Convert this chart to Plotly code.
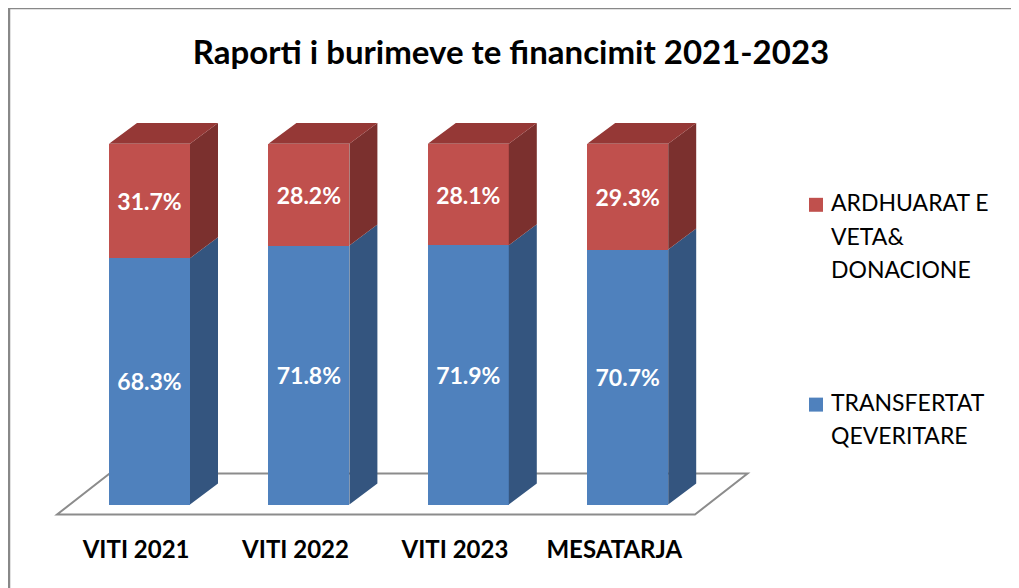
import plotly.graph_objects as go

# ---- data ----
categories = ["VITI 2021", "VITI 2022", "VITI 2023", "MESATARJA"]
transfertat = [68.3, 71.8, 71.9, 70.7]      # TRANSFERTAT QEVERITARE (%)
ardhuarat = [31.7, 28.2, 28.1, 29.3]        # ARDHUARAT E VETA& DONACIONE (%)
title_text = "Raporti i burimeve te financimit 2021-2023"

# ---- style / layout constants ----
OFF = 8                      # page body margin
W, H = 1019 - OFF, 588 - OFF
BOTTOM = 65.5                # bottom margin (px)
PLOT_H = H - BOTTOM
X0, XU = 149.5 - OFF, 159.4  # px of first category, px per category
Y0, YU = 505.0 - OFF, 3.61   # px of value 0, px per percent
BAR_W = 81 / XU
DX = 28 / XU                 # depth offset in x units
DY = 21 / YU                 # depth offset in y units
FONT = "Lato"

BLUE, BLUE_SIDE = "#4F81BD", "#34557F"
RED, RED_SIDE, RED_TOP = "#C0504D", "#7B302E", "#953836"

xr = [(0 - X0) / XU, (W - X0) / XU]
yr = [(Y0 - PLOT_H) / YU, Y0 / YU]

xs = list(range(len(categories)))

fig = go.Figure()

# front faces
for vals, color in ((transfertat, BLUE), (ardhuarat, RED)):
    fig.add_trace(go.Bar(x=xs, y=vals, width=BAR_W, marker=dict(color=color, line=dict(width=0)),
                         text=[f"{v:.1f}%" for v in vals], textposition="inside",
                         insidetextanchor="middle", textangle=0,
                         textfont=dict(family=FONT, size=23, color="white", weight="bold"),
                         showlegend=False, hoverinfo="skip"))

# 3D side / top faces computed from the data
def poly_trace(polys, color):
    px, py = [], []
    for p in polys:
        for (a, b) in p + [p[0]]:
            px.append(a); py.append(b)
        px.append(None); py.append(None)
    return go.Scatter(x=px, y=py, mode="lines", fill="toself", fillcolor=color,
                      line=dict(width=0), showlegend=False, hoverinfo="skip")

blue_side, red_side, red_top = [], [], []
for i, (b, r) in enumerate(zip(transfertat, ardhuarat)):
    xl, xrt = i - BAR_W / 2, i + BAR_W / 2
    top = b + r
    blue_side.append([(xrt, 0), (xrt + DX, DY), (xrt + DX, b + DY), (xrt, b)])
    red_side.append([(xrt, b), (xrt + DX, b + DY), (xrt + DX, top + DY), (xrt, top)])
    red_top.append([(xl, top), (xl + DX, top + DY), (xrt + DX, top + DY), (xrt, top)])

fig.add_trace(poly_trace(blue_side, BLUE_SIDE))
fig.add_trace(poly_trace(red_side, RED_SIDE))
fig.add_trace(poly_trace(red_top, RED_TOP))

# floor (in data space)
n = len(categories)
f_front = -10 / YU
f_back = 31 / YU
fl_l, fl_r = -0.58, (n - 1) + 0.422
fdx = 0.33
floor_path = (f"M {fl_l},{f_front} L {fl_r},{f_front} L {fl_r + fdx},{f_back} "
              f"L {fl_l + fdx},{f_back} Z")

def py2paper(p):
    return (PLOT_H - p) / PLOT_H

shapes = [
    dict(type="path", path=floor_path, xref="x", yref="y", layer="below",
         line=dict(color="#8C8C8C", width=2), fillcolor="rgba(0,0,0,0)"),
    # chart border
    dict(type="rect", xref="paper", yref="paper",
         x0=1 / W, x1=1.05, y0=-0.3, y1=py2paper(0),
         line=dict(color="#888888", width=2.5), fillcolor="rgba(0,0,0,0)", layer="below"),
]

# legend (manual, multi-line entries)
annotations = []
legend_items = [
    (RED, 198 - OFF, ["ARDHUARAT E", "VETA&", "DONACIONE"]),
    (BLUE, 398 - OFF, ["TRANSFERTAT", "QEVERITARE"]),
]
for color, top_px, lines in legend_items:
    shapes.append(dict(type="rect", xref="paper", yref="paper",
                       x0=(809 - OFF) / W, x1=(823 - OFF) / W,
                       y0=py2paper(top_px + 14), y1=py2paper(top_px),
                       fillcolor=color, line=dict(width=0)))
    for k, ln in enumerate(lines):
        annotations.append(dict(text=ln, xref="paper", yref="paper",
                                x=(829 - OFF) / W, y=py2paper(top_px + 4.5 + k * 33.3),
                                xanchor="left", yanchor="middle", showarrow=False,
                                font=dict(family=FONT, size=23, color="#000000")))

fig.update_layout(
    width=W, height=H,
    margin=dict(l=0, r=0, t=0, b=BOTTOM),
    paper_bgcolor="white", plot_bgcolor="white",
    barmode="stack", showlegend=False,
    title=dict(text=title_text, x=(511 - OFF) / W, xanchor="center",
               y=1 - (52 - OFF) / H, yanchor="middle", yref="container",
               font=dict(family=FONT, size=33, color="#000000", weight="bold")),
    xaxis=dict(range=xr, showgrid=False, zeroline=False, showline=False,
               tickmode="array", tickvals=[i - 0.084 for i in xs], ticktext=categories,
               ticks="outside", ticklen=6, tickcolor="rgba(0,0,0,0)",
               tickfont=dict(family=FONT, size=24, color="#000000", weight="bold")),
    yaxis=dict(range=yr, showgrid=False, zeroline=False, showline=False,
               showticklabels=False),
    shapes=shapes, annotations=annotations,
)

fig.write_html("out.html")
